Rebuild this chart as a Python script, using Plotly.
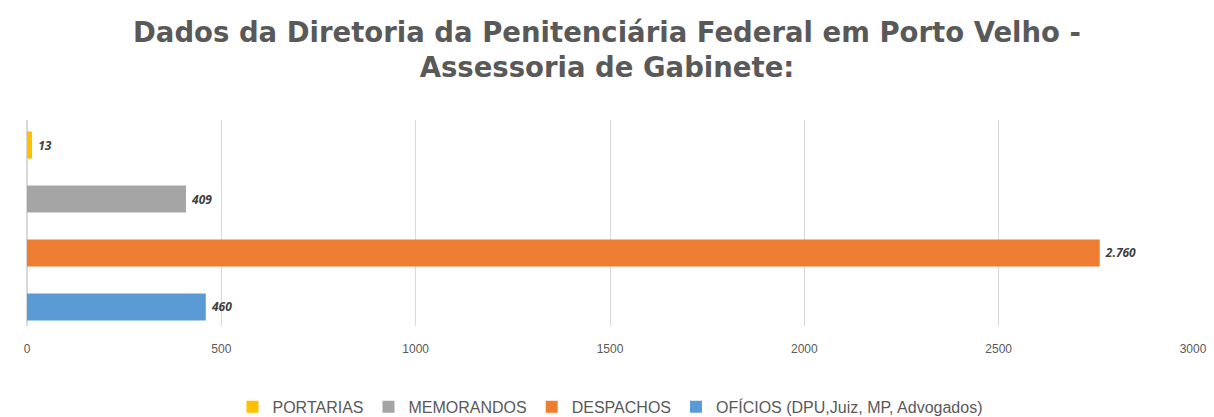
import plotly.graph_objects as go

categories = ["PORTARIAS", "MEMORANDOS", "DESPACHOS", "OFÍCIOS (DPU,Juiz, MP, Advogados)"]
values = [13, 409, 2760, 460]
colors = ["#FFC000", "#A5A5A5", "#ED7D31", "#5B9BD5"]
tick_vals = [0, 500, 1000, 1500, 2000, 2500, 3000]

fig = go.Figure()
for cat, val, col in zip(categories, values, colors):
    fig.add_trace(go.Bar(
        x=[val], y=[cat], orientation="h", name=cat,
        marker=dict(color=col, line=dict(width=0)),
        width=0.5,
        text=[val], texttemplate="\u00a0%{x:,}", textposition="outside",
        textfont=dict(family="Open Sans", size=12, color="#404040", style="italic", weight="bold"),
        cliponaxis=False,
    ))

fig.update_layout(
    width=1214, height=417,
    paper_bgcolor="white", plot_bgcolor="white",
    margin=dict(l=27, r=21, t=120, b=91, autoexpand=False),
    separators=",.",
    barmode="overlay",
    title=dict(
        text="Dados da Diretoria da Penitenciária Federal em Porto Velho -<br>Assessoria de Gabinete:",
        x=0.5, xanchor="center", y=0.9, yanchor="middle",
        font=dict(family="DejaVu Sans", size=27.5, color="#595959", weight="bold"),
    ),
    xaxis=dict(
        range=[0, 3000], tickvals=tick_vals, showgrid=True, gridcolor="#D9D9D9", gridwidth=1,
        zeroline=True, zerolinecolor="#D9D9D9", showline=False,
        tickfont=dict(family="Liberation Sans Narrow, Liberation Sans", size=12, color="#595959"),
        ticks="", ticklabelstandoff=14,
    ),
    yaxis=dict(
        type="category", categoryorder="array", categoryarray=categories[::-1],
        range=[-0.352, 3.463], showticklabels=False, showgrid=False, zeroline=False, showline=False,
    ),
    legend=dict(
        orientation="h", x=0.5, xanchor="center", y=-0.31, yanchor="top",
        font=dict(family="Liberation Sans Narrow, Liberation Sans", size=16, color="#595959"),
        tracegroupgap=0,
    ),
    showlegend=True,
)

fig.write_html("out.html", config={"displayModeBar": False},
               post_script="document.body.style.margin='0';")
